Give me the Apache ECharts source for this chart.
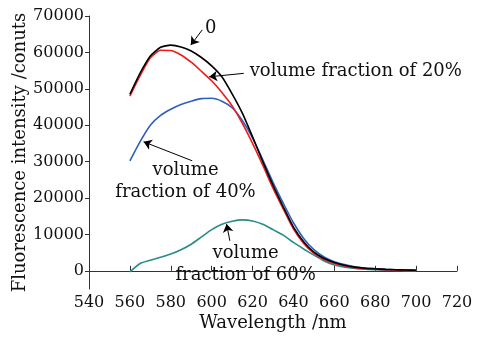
<!DOCTYPE html>
<html>
<head>
<meta charset="utf-8">
<script src="https://cdn.jsdelivr.net/npm/echarts@6/dist/echarts.min.js"></script>
<style>
html,body{margin:0;padding:0;background:#fff;}
#chart{width:486px;height:340px;}
</style>
</head>
<body>
<div id="chart"></div>
<script>
// Wavelengths (nm)
const wavelengths = [560,565,570,575,580,585,590,595,600,605,610,615,620,625,630,635,640,645,650,655,660,665,670,675,680,685,690,695,700];
// Volume fraction 0
const frac0 = [48500,54300,59000,61400,62000,61500,60400,58600,56300,53300,48600,43300,36800,30000,23500,17600,12000,8000,5100,3400,2300,1500,1000,700,550,400,300,200,150];
// Volume fraction 20%
const frac20 = [48000,53600,58500,60600,60500,59300,57300,54800,52200,49000,45300,40500,35000,29000,22700,17000,11500,7500,4800,3100,2000,1300,850,600,450,330,230,150,100];
// Volume fraction 40%
const frac40 = [30200,35500,40000,42700,44400,45700,46600,47300,47400,46600,44800,41300,36500,30500,24300,18600,13200,8900,5800,3800,2500,1700,1100,750,550,400,280,180,120];
// Volume fraction 60%
const frac60 = [-300,2000,2900,3700,4600,5800,7300,9300,11300,12800,13600,14000,13700,12800,11300,9800,7800,6000,4300,2700,1600,1000,650,420,300,200,120,60,20];

const xTicks = [540,560,580,600,620,640,660,680,700,720];
const yTicks = [0,10000,20000,30000,40000,50000,60000,70000];

// Annotation texts and anchor points (data coordinates)
const annoTexts = ['0', 'volume fraction of 20%', 'volume\nfraction of 40%', 'volume\nfraction of 60%'];
const annoPos = [[599.5, 66500], [670.5, 54700], [587.2, 24700], [616.6, 1700]];
// Arrows: [from, to] in data coordinates
const arrows = [
  [[595.4, 66200], [589.8, 62000]],
  [[615.7, 54250], [598.8, 53290]],
  [[590.5, 30220], [566.7, 35440]],
  [[608.9, 8240], [607.3, 12830]]
];

const FONT = 'DejaVu Serif';
const pair = (xs, ys) => xs.map((x, i) => [x, ys[i]]);

const chart = echarts.init(document.getElementById('chart'), null, {renderer: 'canvas'});

function lineSeries(name, data, color, extra) {
  return Object.assign({
    name: name,
    type: 'line',
    data: pair(wavelengths, data),
    showSymbol: false,
    symbol: 'none',
    smooth: 0.2,
    lineStyle: {color: color, width: 1.6},
    itemStyle: {color: color},
    animation: false,
    silent: true,
    z: 2
  }, extra || {});
}

const option = {
  animation: false,
  backgroundColor: '#fff',
  grid: {left: 89, right: 29, top: 16, bottom: 51, containLabel: false, outerBoundsMode: 'none'},
  xAxis: {
    type: 'value',
    min: 540, max: 720, interval: 20,
    name: 'Wavelength /nm',
    nameLocation: 'middle',
    nameGap: 25,
    nameMoveOverlap: false,
    nameTextStyle: {fontFamily: FONT, fontSize: 18, color: '#111'},
    axisLine: {show: true, lineStyle: {color: '#333', width: 1}},
    axisTick: {show: true, inside: true, length: 5, lineStyle: {color: '#333'}, customValues: xTicks},
    axisLabel: {fontFamily: FONT, fontSize: 16, color: '#111', margin: 6,
      customValues: xTicks, formatter: v => String(v)},
    splitLine: {show: false}
  },
  yAxis: {
    type: 'value',
    min: -5000, max: 70000,
    name: 'Fluorescence intensity /conuts',
    nameLocation: 'middle',
    nameGap: 60,
    nameMoveOverlap: false,
    nameTextStyle: {fontFamily: FONT, fontSize: 18, color: '#111'},
    axisLine: {show: true, lineStyle: {color: '#333', width: 1}},
    axisTick: {show: true, inside: false, length: 4, lineStyle: {color: '#333'}, customValues: yTicks},
    axisLabel: {fontFamily: FONT, fontSize: 16, color: '#111', margin: 5, customValues: yTicks,
      formatter: v => String(v)},
    splitLine: {show: false}
  },
  series: [
    lineSeries('60%', frac60, '#2a8c88'),
    lineSeries('40%', frac40, '#2e5fbf'),
    lineSeries('20%', frac20, '#f01a1a'),
    lineSeries('0', frac0, '#000000', {
      markLine: {
        silent: true,
        animation: false,
        symbol: ['none', 'arrow'],
        symbolSize: 8,
        lineStyle: {color: '#000', width: 1, type: 'solid'},
        label: {show: false},
        data: arrows.map(a => [{coord: a[0]}, {coord: a[1]}])
      },
      markPoint: {
        silent: true,
        animation: false,
        symbol: 'circle',
        symbolSize: 1,
        itemStyle: {color: 'rgba(0,0,0,0)'},
        label: {
          show: true,
          position: 'inside',
          fontFamily: FONT,
          fontSize: 18,
          lineHeight: 22,
          color: '#111',
          align: 'center',
          verticalAlign: 'middle'
        },
        data: annoTexts.map((t, i) => ({coord: annoPos[i], label: {formatter: t}}))
      }
    })
  ]
};

chart.setOption(option);
</script>
</body>
</html>
